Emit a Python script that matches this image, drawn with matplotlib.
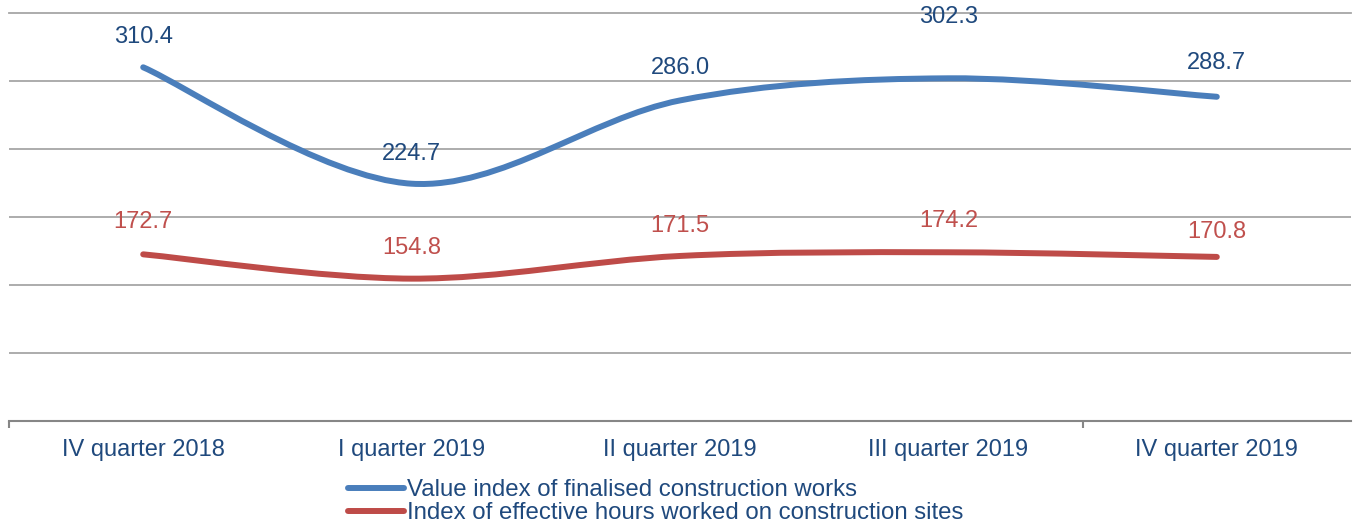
import matplotlib
matplotlib.use("Agg")
import matplotlib.pyplot as plt
from matplotlib.path import Path
from matplotlib.patches import PathPatch
from matplotlib.lines import Line2D

plt.rcParams['font.family'] = ['Liberation Sans', 'DejaVu Sans']

# data
quarters = ['IV quarter 2018', 'I quarter 2019', 'II quarter 2019',
            'III quarter 2019', 'IV quarter 2019']
value_index = [310.4, 224.7, 286.0, 302.3, 288.7]
hours_index = [172.7, 154.8, 171.5, 174.2, 170.8]
series_names = ['Value index of finalised construction works',
                'Index of effective hours worked on construction sites']

# label offsets above the point, in pixels (labels were hand placed)
value_lift = [30, 30, 32, 61, 34]
hours_lift = [32, 31, 30, 31, 25]

BLUE = '#4a7ebb'
RED = '#be4b48'
TXT_BLUE = '#1f497d'
TXT_RED = '#c0504d'
FS = 17


##########################################################
def smooth_path(xs, ys):
    # excel style smoothed line: bezier segments through every point
    pts = list(zip(xs, ys))
    n = len(pts)
    verts = [pts[0]]
    codes = [Path.MOVETO]
    for i in range(n - 1):
        p0 = pts[i - 1] if i > 0 else pts[i]
        p1 = pts[i]
        p2 = pts[i + 1]
        p3 = pts[i + 2] if i + 2 < n else pts[i + 1]
        c1 = (p1[0] + (p2[0] - p0[0]) / 6, p1[1] + (p2[1] - p0[1]) / 6)
        c2 = (p2[0] - (p3[0] - p1[0]) / 6, p2[1] - (p3[1] - p1[1]) / 6)
        verts += [c1, c2, p2]
        codes += [Path.CURVE4] * 3
    return Path(verts, codes)
##########################################################

fig = plt.figure(figsize=(13.54, 5.23), dpi=100)
ax = fig.add_axes([9 / 1354, 1 - 421 / 523, 1342 / 1354, (421 - 13.5) / 523])

x = list(range(len(quarters)))

for ys, col in [(value_index, BLUE), (hours_index, RED)]:
    patch = PathPatch(smooth_path(x, ys), facecolor='none', edgecolor=col,
                      lw=4.3, capstyle='round', joinstyle='round', zorder=3)
    ax.add_patch(patch)

for xi, v, lift in zip(x, value_index, value_lift):
    ax.annotate(f'{v:.1f}', (xi, v), xytext=(0, lift * 0.72),
                textcoords='offset points', ha='center', va='center',
                fontsize=FS, color=TXT_BLUE, zorder=4)
for xi, v, lift in zip(x, hours_index, hours_lift):
    ax.annotate(f'{v:.1f}', (xi, v), xytext=(0, lift * 0.72),
                textcoords='offset points', ha='center', va='center',
                fontsize=FS, color=TXT_RED, zorder=4)

ax.set_xlim(-0.5, len(quarters) - 0.5)
ax.set_ylim(50, 350)
ax.set_yticks(range(50, 351, 50))
ax.yaxis.grid(True, color='#a6a6a6', lw=1.3)
ax.axhline(350, color='#a6a6a6', lw=1.3, clip_on=False, zorder=0.5)
ax.set_axisbelow(True)
ax.tick_params(axis='y', left=False, labelleft=False)

ax.set_xticks(x)
ax.set_xticklabels(quarters, fontsize=FS, color=TXT_BLUE)
ax.tick_params(axis='x', length=0, pad=13)
ax.set_xticks([-0.5, 3.5], minor=True)
ax.tick_params(axis='x', which='minor', length=5, width=1.5, color='#868686')

for s in ['top', 'right', 'left']:
    ax.spines[s].set_visible(False)
ax.spines['bottom'].set_color('#868686')
ax.spines['bottom'].set_linewidth(1.5)

handles = [Line2D([], [], color=BLUE, lw=4.3, solid_capstyle='round'),
           Line2D([], [], color=RED, lw=4.3, solid_capstyle='round')]
leg = fig.legend(handles, series_names, loc='upper left',
                 bbox_to_anchor=(348 / 1354, 1 - 479 / 523), frameon=False,
                 fontsize=17.3, handlelength=2.35, handletextpad=0.12,
                 labelspacing=0.05, borderpad=0, borderaxespad=0)
for t in leg.get_texts():
    t.set_color(TXT_BLUE)

fig.savefig('out.png', dpi=100)
